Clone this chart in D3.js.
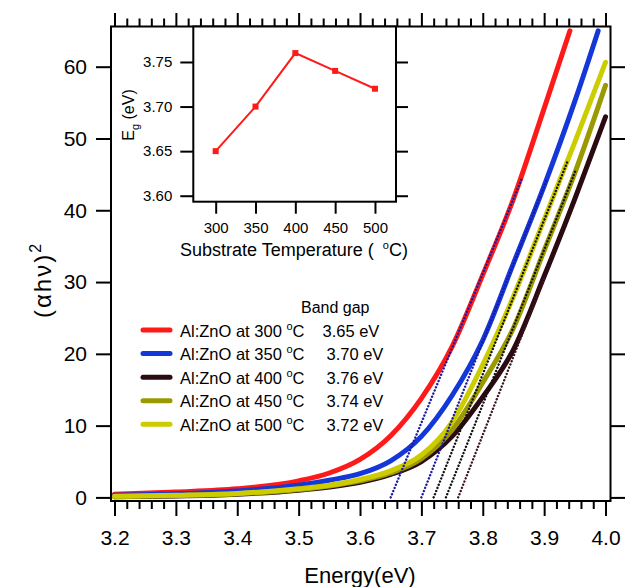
<!DOCTYPE html>
<html>
<head>
<meta charset="utf-8">
<script src="https://d3js.org/d3.v7.min.js"></script>
<style>
  body { margin: 0; background: #fff; }
  svg { display: block; font-family: "Liberation Sans", Arial, sans-serif; }
</style>
</head>
<body>
<svg></svg>
<script>
// ---- data ----
const energy = [3.2, 3.3, 3.4, 3.5, 3.55, 3.6, 3.65, 3.7, 3.75, 3.8, 3.85, 3.9, 3.95, 4.0];
const t300 = [0.45, 0.75, 1.2, 2.3, 3.4, 5.3, 8.6, 13.8, 21.0, 31.0, 41.6, 54.2, null, null];
const t350 = [0.3, 0.5, 0.9, 1.7, 2.4, 3.3, 5.1, 8.5, 14.2, 21.9, 32.6, 43.4, 55.2, null];
const t400 = [0.1, 0.2, 0.45, 1.0, 1.45, 2.1, 3.2, 5.0, 8.5, 14.0, 20.6, 30.8, 41.6, 53.0];
const t450 = [0.1, 0.25, 0.5, 1.1, 1.6, 2.3, 3.4, 5.4, 9.4, 16.0, 23.6, 34.4, 45.2, 57.4];
const t500 = [0.15, 0.3, 0.55, 1.2, 1.7, 2.5, 3.7, 5.9, 10.5, 18.5, 28.0, 38.7, 49.5, 60.6];
// last points of the curves that stop at the top of the plot
const endE = [3.942, 3.988, null, null, null];
const endY = [65.0, 65.0, null, null, null];

const temps = [300, 350, 400, 450, 500];
const bandGap = [3.65, 3.70, 3.76, 3.74, 3.72];
const bandGapText = ["3.65 eV", "3.70 eV", "3.76 eV", "3.74 eV", "3.72 eV"];
// linear fits: from (bandGap, 0) to (fitEndE, fitEndY)
const fitEndE = [3.864, 3.904, 3.900, 3.952, 3.939];
const fitEndY = [44.5, 44.2, 30.5, 45.7, 47.0];

const xTicks = [3.2, 3.3, 3.4, 3.5, 3.6, 3.7, 3.8, 3.9, 4.0];
const yTicks = [0, 10, 20, 30, 40, 50, 60];

// inset
const insetTemp = [300, 350, 400, 450, 500];
const insetEg = [3.65, 3.70, 3.76, 3.74, 3.72];
const insetYTicks = [3.60, 3.65, 3.70, 3.75];

// ---- styles ----
const colors = ["#ff1a1a", "#1438d8", "#2c0a12", "#9a9a00", "#cccc00"];
const fitColors = ["#1a1aa0", "#1a1aa0", "#3a161c", "#111", "#111"];

const width = 631, height = 587;
const svg = d3.select("svg").attr("width", width).attr("height", height);

const x = d3.scaleLinear().domain([3.1943, 4.0081]).range([111, 610.5]);
const y = d3.scaleLinear().domain([-0.5, 65.6]).range([501, 26.5]);

const series = [t300, t350, t400, t450, t500].map(function (vals, i) {
  const pts = [];
  energy.forEach(function (e, j) {
    if (vals[j] != null) pts.push([e, vals[j]]);
  });
  if (endE[i] != null) pts.push([endE[i], endY[i]]);
  return pts;
});

// clip for plot
svg.append("clipPath").attr("id", "plotclip")
  .append("rect").attr("x", 112).attr("y", 27.5).attr("width", 497.5).attr("height", 472.5);

const plot = svg.append("g").attr("clip-path", "url(#plotclip)");

const line = d3.line()
  .x(function (d) { return x(d[0]); })
  .y(function (d) { return y(d[1]); })
  .curve(d3.curveMonotoneX);

plot.selectAll("path.curve")
  .data(series)
  .enter()
  .append("path")
  .attr("class", "curve")
  .attr("d", line)
  .attr("fill", "none")
  .attr("stroke", function (d, i) { return colors[i]; })
  .attr("stroke-width", 5)
  .attr("stroke-linecap", "round")
  .attr("stroke-linejoin", "round");

const fits = bandGap.map(function (g, i) { return [[g, 0], [fitEndE[i], fitEndY[i]]]; });
plot.selectAll("path.fit")
  .data(fits)
  .enter()
  .append("path")
  .attr("class", "fit")
  .attr("d", d3.line().x(function (d) { return x(d[0]); }).y(function (d) { return y(d[1]); }))
  .attr("fill", "none")
  .attr("stroke", function (d, i) { return fitColors[i]; })
  .attr("stroke-width", 2.4)
  .attr("stroke-linecap", "round")
  .attr("stroke-dasharray", "0.1 3.3");

// ---- axes ----
function styleAxis(g) {
  g.select(".domain").remove();
  g.selectAll(".tick line").attr("stroke", "#000").attr("stroke-width", 2);
}

const minorX = d3.range(3.2, 4.001, 0.02).filter(function (v) {
  return Math.abs(v * 10 - Math.round(v * 10)) > 1e-6;
});

svg.append("g").attr("transform", "translate(0,501)")
  .call(d3.axisBottom(x).tickValues(xTicks).tickSize(15).tickPadding(14).tickFormat(d3.format(".1f")))
  .call(styleAxis)
  .selectAll("text").attr("font-size", 21).attr("fill", "#000").attr("font-family", null);
svg.append("g").attr("transform", "translate(0,501)")
  .call(d3.axisBottom(x).tickValues(minorX).tickSize(8).tickFormat(""))
  .call(styleAxis);
svg.append("g").attr("transform", "translate(0,26.5)")
  .call(d3.axisTop(x).tickValues(xTicks).tickSize(13.5).tickFormat(""))
  .call(styleAxis);
svg.append("g").attr("transform", "translate(0,26.5)")
  .call(d3.axisTop(x).tickValues(minorX).tickSize(8).tickFormat(""))
  .call(styleAxis);
svg.append("g").attr("transform", "translate(111,0)")
  .call(d3.axisLeft(y).tickValues(yTicks).tickSize(15).tickPadding(9))
  .call(styleAxis)
  .selectAll("text").attr("font-size", 21).attr("fill", "#000").attr("font-family", null);
svg.append("g").attr("transform", "translate(610.5,0)")
  .call(d3.axisRight(y).tickValues(yTicks).tickSize(14.5).tickFormat(""))
  .call(styleAxis);

svg.append("rect")
  .attr("x", 111).attr("y", 26.5).attr("width", 499.5).attr("height", 474.5)
  .attr("fill", "none").attr("stroke", "#000").attr("stroke-width", 2);

// axis titles
svg.append("text")
  .attr("x", 360).attr("y", 583)
  .attr("text-anchor", "middle").attr("font-size", 22)
  .text("Energy(eV)");

const yl = svg.append("text")
  .attr("transform", "translate(51,280) rotate(-90)")
  .attr("text-anchor", "middle").attr("font-size", 24).attr("letter-spacing", 2);
yl.append("tspan").text("(\u03b1h\u03bd)");
yl.append("tspan").attr("dy", -10).attr("font-size", 16).text("2");

// ---- legend ----
const legend = svg.append("g");
legend.append("text").attr("x", 301).attr("y", 313).attr("font-size", 16).text("Band gap");
const legendY = d3.scalePoint().domain(temps).range([330, 424.3]);
temps.forEach(function (t, i) {
  const ly = legendY(t);
  legend.append("line")
    .attr("x1", 143).attr("x2", 170).attr("y1", ly).attr("y2", ly)
    .attr("stroke", colors[i]).attr("stroke-width", 5).attr("stroke-linecap", "round");
  const tx = legend.append("text").attr("x", 180).attr("y", ly + 6.5).attr("font-size", 16.5);
  tx.append("tspan").text("Al:ZnO at " + t + " ");
  tx.append("tspan").attr("dy", -7).attr("font-size", 11).text("o");
  tx.append("tspan").attr("dy", 7).text("C");
  legend.append("text").attr("x", i === 0 ? 322.5 : 326.5).attr("y", ly + 6.5)
    .attr("font-size", 16.5).text(bandGapText[i]);
});

// ---- inset ----
const xi = d3.scaleLinear().domain([271.9, 526.4]).range([193.3, 396]);
const yi = d3.scaleLinear().domain([3.5933, 3.7898]).range([201.7, 26.5]);
const inset = svg.append("g");
inset.append("rect")
  .attr("x", 193.3).attr("y", 26.5).attr("width", 202.7).attr("height", 175.2)
  .attr("fill", "#fff").attr("stroke", "none");

inset.append("g").attr("transform", "translate(0,201.7)")
  .call(d3.axisBottom(xi).tickValues(insetTemp).tickSize(12).tickPadding(9))
  .call(styleAxis)
  .selectAll("text").attr("font-size", 15).attr("fill", "#000").attr("font-family", null);
inset.append("g").attr("transform", "translate(193.3,0)")
  .call(d3.axisLeft(yi).tickValues(insetYTicks).tickSize(13).tickPadding(8).tickFormat(d3.format(".2f")))
  .call(styleAxis)
  .selectAll("text").attr("font-size", 15).attr("fill", "#000").attr("font-family", null);
inset.append("g").attr("transform", "translate(396,0)")
  .call(d3.axisRight(yi).tickValues(insetYTicks).tickSize(12).tickFormat(""))
  .call(styleAxis);

const insetPts = insetTemp.map(function (t, i) { return [t, insetEg[i]]; });
inset.append("path")
  .datum(insetPts)
  .attr("d", d3.line().x(function (d) { return xi(d[0]); }).y(function (d) { return yi(d[1]); }))
  .attr("fill", "none").attr("stroke", "#ff1a1a").attr("stroke-width", 2);
inset.selectAll("rect.mk")
  .data(insetPts)
  .enter()
  .append("rect")
  .attr("class", "mk")
  .attr("x", function (d) { return xi(d[0]) - 3; })
  .attr("y", function (d) { return yi(d[1]) - 3; })
  .attr("width", 6).attr("height", 6)
  .attr("fill", "#ff1a1a");

inset.append("rect")
  .attr("x", 193.3).attr("y", 26.5).attr("width", 202.7).attr("height", 175.2)
  .attr("fill", "none").attr("stroke", "#000").attr("stroke-width", 2);

const ixl = inset.append("text").attr("x", 180).attr("y", 256).attr("font-size", 18);
ixl.append("tspan").text("Substrate Temperature (");
ixl.append("tspan").attr("dx", 9).attr("dy", -7).attr("font-size", 11).text("o");
ixl.append("tspan").attr("dy", 7).text("C)");

const iyl = inset.append("text")
  .attr("transform", "translate(134,115) rotate(-90)")
  .attr("text-anchor", "middle").attr("font-size", 16);
iyl.append("tspan").text("E");
iyl.append("tspan").attr("dy", 5).attr("font-size", 11).text("g");
iyl.append("tspan").attr("dy", -5).text(" (eV)");
</script>
</body>
</html>
